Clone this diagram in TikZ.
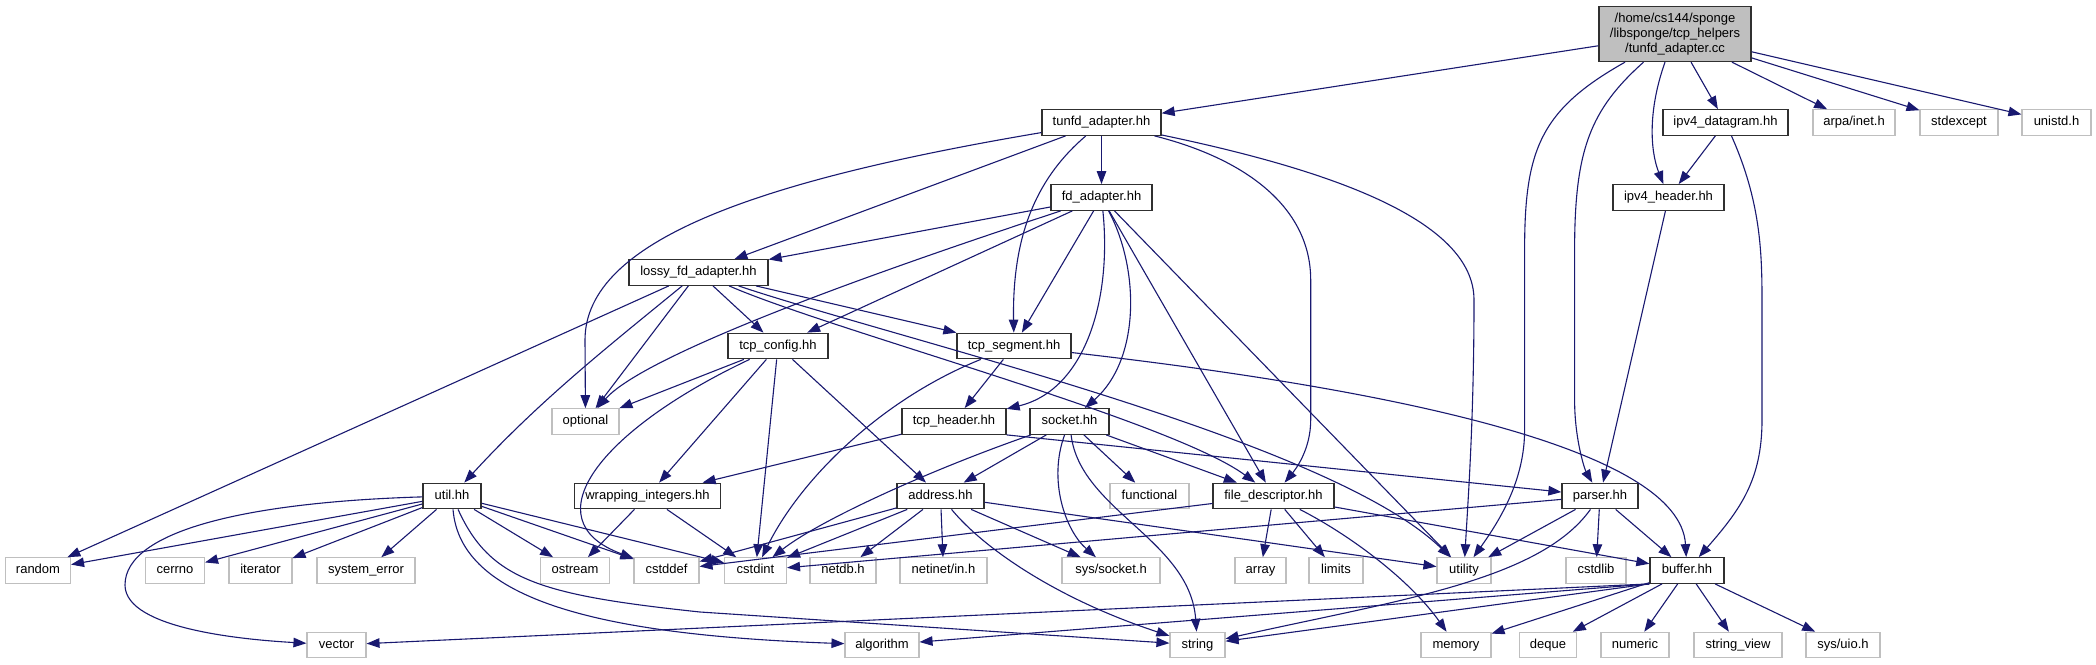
\documentclass[tikz,border=0pt]{standalone}
\usepackage{fontspec}
\newfontfamily\dx{Liberation Sans}
\usetikzlibrary{arrows.meta}
\definecolor{eb}{HTML}{191970}
\definecolor{gr}{HTML}{BFBFBF}
\definecolor{nbd}{HTML}{303030}
\tikzset{
  nbase/.style={draw=nbd, line width=1.3pt, fill=white, inner sep=0pt, font=\dx\fontsize{13}{15}\selectfont},
  nb/.style={nbase, minimum height=25.5pt, text height=9.4pt, text depth=2.8pt},
  ng/.style={nb, draw=gr, line width=1.1pt},
  nr/.style={nbase, fill=gr, align=center, minimum width=152pt, minimum height=55pt},
  e/.style={draw=eb, line width=1.1pt, -{Triangle[length=13pt,width=9.5pt]}}
}
\begin{document}
\begin{tikzpicture}[x=1pt,y=-1pt]
\fill[white] (0,0) rectangle (2096,664);
\useasboundingbox (0,0) rectangle (2096,664);
% rank 0
\node[nr] (root) at (1675,34) {/home/cs144/sponge\\/libsponge/tcp\_helpers\\/tunfd\_adapter.cc};
% rank 1
\node[nb,minimum width=119pt] (tunfd) at (1101.5,122.5) {tunfd\_adapter.hh};
\node[nb,minimum width=125pt] (ipdg) at (1725.5,122.5) {ipv4\_datagram.hh};
\node[ng,minimum width=82pt] (arpa) at (1854,122.5) {arpa/inet.h};
\node[ng,minimum width=78pt] (stdx) at (1959,122.5) {stdexcept};
\node[ng,minimum width=69pt] (unistd) at (2056.5,122.5) {unistd.h};
% rank 2
\node[nb,minimum width=101pt] (fdad) at (1101.5,197.5) {fd\_adapter.hh};
\node[nb,minimum width=111pt] (iphd) at (1668.5,197.5) {ipv4\_header.hh};
% rank 3
\node[nb,minimum width=139pt] (lossy) at (698.5,272.5) {lossy\_fd\_adapter.hh};
% rank 4
\node[nb,minimum width=100pt] (tcfg) at (778,346) {tcp\_config.hh};
\node[nb,minimum width=114pt] (tseg) at (1014,346) {tcp\_segment.hh};
% rank 5
\node[ng,minimum width=67pt] (opt) at (585.5,421.5) {optional};
\node[nb,minimum width=104pt] (thdr) at (954,421.5) {tcp\_header.hh};
\node[nb,minimum width=79pt] (sock) at (1069.5,421.5) {socket.hh};
% rank 6
\node[nb,minimum width=58pt] (util) at (452,496) {util.hh};
\node[nb,minimum width=146pt] (wrap) at (647.5,496) {wrapping\_integers.hh};
\node[nb,minimum width=87pt] (addr) at (940.5,496) {address.hh};
\node[ng,minimum width=79pt] (func) at (1149.5,496) {functional};
\node[nb,minimum width=121pt] (fdesc) at (1273.5,496) {file\_descriptor.hh};
\node[nb,minimum width=76pt] (parser) at (1600,496) {parser.hh};
% rank 7
\node[ng,minimum width=65pt] (random) at (38,570.5) {random};
\node[ng,minimum width=59pt] (cerrno) at (175,570.5) {cerrno};
\node[ng,minimum width=63pt] (iter) at (260.5,570.5) {iterator};
\node[ng,minimum width=98pt] (syserr) at (366,570.5) {system\_error};
\node[ng,minimum width=69pt] (ostream) at (575,570.5) {ostream};
\node[ng,minimum width=65pt] (cstddef) at (666.5,570.5) {cstddef};
\node[ng,minimum width=62pt] (cstdint) at (755.5,570.5) {cstdint};
\node[ng,minimum width=66pt] (netdb) at (843,570.5) {netdb.h};
\node[ng,minimum width=87pt] (netinet) at (943.5,570.5) {netinet/in.h};
\node[ng,minimum width=98pt] (syssock) at (1111,570.5) {sys/socket.h};
\node[ng,minimum width=51pt] (array) at (1260.5,570.5) {array};
\node[ng,minimum width=54pt] (limits) at (1336,570.5) {limits};
\node[ng,minimum width=54pt] (utility) at (1464,570.5) {utility};
\node[ng,minimum width=60pt] (cstdlib) at (1596,570.5) {cstdlib};
\node[nb,minimum width=74pt] (buffer) at (1687,570.5) {buffer.hh};
% rank 8
\node[ng,minimum width=59pt] (vector) at (336.5,645) {vector};
\node[ng,minimum width=74pt] (algo) at (882,645) {algorithm};
\node[ng,minimum width=55pt] (string) at (1197.5,645) {string};
\node[ng,minimum width=70pt] (memory) at (1456,645) {memory};
\node[ng,minimum width=57pt] (deque) at (1548,645) {deque};
\node[ng,minimum width=68pt] (numeric) at (1635,645) {numeric};
\node[ng,minimum width=88pt] (strview) at (1738,645) {string\_view};
\node[ng,minimum width=74pt] (sysuio) at (1843,645) {sys/uio.h};
% root edges
\draw[e] (root) -- (tunfd);
\draw[e] (root) .. controls (1540,110) and (1524.6,150) .. (1524.6,250) -- (1524.6,430) .. controls (1524.6,480) and (1500,520) .. (utility);
\draw[e] (root) .. controls (1590,110) and (1574.6,150) .. (1574.6,250) -- (1574.6,400) .. controls (1574.6,440) and (1585,470) .. (parser);
\draw[e] (root) .. controls (1648,110) and (1650,150) .. (iphd);
\draw[e] (root) -- (ipdg);
\draw[e] (root) -- (arpa);
\draw[e] (root) -- (stdx);
\draw[e] (root) -- (unistd);
% tunfd_adapter.hh
\draw[e] (tunfd) -- (fdad);
\draw[e] (tunfd) -- (lossy);
\draw[e] (tunfd) .. controls (1040,175) and (1012,230) .. (tseg);
\draw[e] (tunfd) .. controls (760,180) and (585,240) .. (585,340) -- (opt);
\draw[e] (tunfd) .. controls (1250,160) and (1310.7,210) .. (1310.7,280) -- (1310.7,420) .. controls (1310.7,450) and (1295,470) .. (fdesc);
\draw[e] (tunfd) .. controls (1330,170) and (1474,220) .. (1474,300) .. controls (1474,420) and (1468,500) .. (utility);
% fd_adapter.hh
\draw[e] (fdad) -- (lossy);
\draw[e] (fdad) .. controls (820,290) and (640,360) .. (opt);
\draw[e] (fdad) -- (tcfg);
\draw[e] (fdad) -- (tseg);
\draw[e] (fdad) .. controls (1112,300) and (1085,390) .. (thdr);
\draw[e] (fdad) .. controls (1140,270) and (1140,360) .. (sock);
\draw[e] (fdad) -- (fdesc);
\draw[e] (fdad) -- (utility);
% lossy_fd_adapter.hh
\draw[e] (lossy) -- (random);
\draw[e] (lossy) .. controls (610,345) and (540,400) .. (util);
\draw[e] (lossy) -- (opt);
\draw[e] (lossy) -- (tcfg);
\draw[e] (lossy) .. controls (830,330) and (1170,420) .. (fdesc);
\draw[e] (lossy) .. controls (900,340) and (1330,440) .. (utility);
\draw[e] (lossy) -- (tseg);
% tcp_config.hh
\draw[e] (tcfg) -- (opt);
\draw[e] (tcfg) .. controls (600,430) and (530,520) .. (cstddef);
\draw[e] (tcfg) -- (wrap);
\draw[e] (tcfg) -- (cstdint);
\draw[e] (tcfg) -- (addr);
% tcp_segment.hh
\draw[e] (tseg) -- (thdr);
\draw[e] (tseg) .. controls (880,400) and (800,480) .. (cstdint);
\draw[e] (tseg) .. controls (1400,390) and (1680,450) .. (buffer);
% tcp_header.hh
\draw[e] (thdr) -- (wrap);
\draw[e] (thdr.south east) -- (parser);
% socket.hh
\draw[e] (sock) .. controls (930,470) and (820,520) .. (cstdint);
\draw[e] (sock) -- (addr);
\draw[e] (sock) .. controls (1048,480) and (1065,530) .. (syssock);
\draw[e] (sock) .. controls (1080,510) and (1190,540) .. (string);
\draw[e] (sock) -- (func);
\draw[e] (sock) -- (fdesc);
% util.hh
\draw[e] (util) -- (random);
\draw[e] (util) .. controls (250,502) and (125,530) .. (125,585) .. controls (125,630) and (250,640) .. (vector);
\draw[e] (util) -- (cerrno);
\draw[e] (util) -- (iter);
\draw[e] (util) -- (syserr);
\draw[e] (util) -- (ostream);
\draw[e] (util) -- (cstddef);
\draw[e] (util) -- (cstdint);
\draw[e] (util) .. controls (460,600) and (600,635) .. (algo);
\draw[e] (util) .. controls (490,580) and (540,595) .. (700,612) -- (string);
% wrapping_integers.hh
\draw[e] (wrap) -- (ostream);
\draw[e] (wrap) -- (cstdint);
% address.hh
\draw[e] (addr) -- (cstddef);
\draw[e] (addr) -- (cstdint);
\draw[e] (addr) -- (netdb);
\draw[e] (addr) -- (netinet);
\draw[e] (addr) -- (syssock);
\draw[e] (addr) .. controls (985,550) and (1060,600) .. (string);
\draw[e] (addr) -- (utility);
% file_descriptor.hh
\draw[e] (fdesc) -- (cstddef);
\draw[e] (fdesc) -- (array);
\draw[e] (fdesc) -- (limits);
\draw[e] (fdesc) .. controls (1350,535) and (1410,580) .. (memory);
\draw[e] (fdesc) -- (buffer);
% parser.hh
\draw[e] (parser) -- (utility);
\draw[e] (parser) -- (cstdlib);
\draw[e] (parser) -- (buffer);
\draw[e] (parser) .. controls (1540,580) and (1400,600) .. (string);
\draw[e] (parser) -- (cstdint);
% buffer.hh
\draw[e] (buffer.south west) -- (vector);
\draw[e] (buffer.south west) -- (algo);
\draw[e] (buffer.south west) -- (string);
\draw[e] (buffer) -- (memory);
\draw[e] (buffer) -- (deque);
\draw[e] (buffer) -- (numeric);
\draw[e] (buffer) -- (strview);
\draw[e] (buffer) -- (sysuio);
% ipv4
\draw[e] (ipdg) -- (iphd);
\draw[e] (ipdg) .. controls (1760,200) and (1762,250) .. (1762,300) -- (1762,420) .. controls (1762,480) and (1740,510) .. (buffer);
\draw[e] (iphd) -- (parser);
\end{tikzpicture}
\end{document}
